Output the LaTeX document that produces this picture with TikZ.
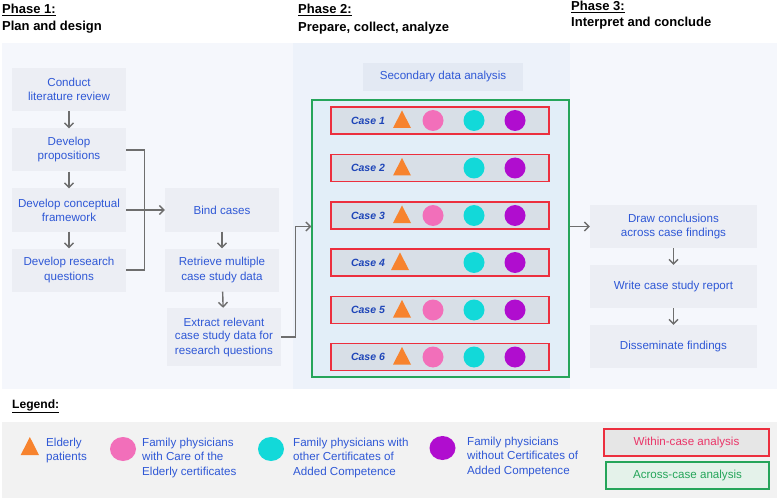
\documentclass[tikz,border=0pt]{standalone}
\usepackage{fontspec}
\setmainfont{Liberation Sans}
\usetikzlibrary{arrows.meta,calc}
\definecolor{panelA}{HTML}{F5F7FC}
\definecolor{panelB}{HTML}{EDF2FA}
\definecolor{boxgray}{HTML}{ECEEF4}
\definecolor{sdagray}{HTML}{E3E9F3}
\definecolor{txtblue}{HTML}{2F58D6}
\definecolor{casetxt}{HTML}{1E45B8}
\definecolor{greenbox}{HTML}{E2EEF8}
\definecolor{greenline}{HTML}{25A55A}
\definecolor{redline}{HTML}{EC2F3E}
\definecolor{casefill}{HTML}{D8DFE7}
\definecolor{arrgray}{HTML}{6E6E6E}
\definecolor{triorange}{HTML}{F7832E}
\definecolor{cpink}{HTML}{F26FBA}
\definecolor{ccyan}{HTML}{12D9D9}
\definecolor{cpurple}{HTML}{B00DCF}
\definecolor{legfill}{HTML}{F2F2F2}
\definecolor{withinfill}{HTML}{E6E6E6}
\definecolor{withintxt}{HTML}{EA3568}
\definecolor{acrossfill}{HTML}{E4F2EA}
\tikzset{
  x=1pt,y=-1pt,
  stepbox/.style={fill=boxgray,inner sep=0pt,minimum width=114pt,minimum height=43pt,align=center,text=txtblue,font=\fontsize{11.6}{14}\selectfont},
  casebox/.style={fill=casefill,draw=redline,line width=1.3pt,inner sep=0pt,minimum width=218pt,minimum height=27pt},
  caselbl/.style={text=casetxt,font=\fontsize{10.5}{12}\selectfont\bfseries\itshape,inner sep=0pt},
  arr/.style={draw=arrgray,line width=1.4pt,-{Straight Barb[length=4.5pt,width=9pt]}},
  conn/.style={draw=arrgray,line width=1.4pt},
  title/.style={anchor=west,inner sep=0pt,font=\fontsize{13}{15}\selectfont\bfseries},
  legtxt/.style={anchor=west,inner sep=0pt,align=left,text=txtblue,font=\fontsize{11.6}{14.5}\selectfont},
  dotp/.style={fill=cpink,circle,inner sep=0pt,minimum size=21pt},
  dotc/.style={fill=ccyan,circle,inner sep=0pt,minimum size=21pt},
  dotu/.style={fill=cpurple,circle,inner sep=0pt,minimum size=21pt},
}
\begin{document}
\begin{tikzpicture}
\useasboundingbox (0,0) rectangle (777,500);
\fill[white] (0,0) rectangle (777,500);
% panels
\fill[panelA] (2,43) rectangle (293,389);
\fill[panelB] (293,43) rectangle (570,389);
\fill[panelA] (570,43) rectangle (777,389);
\fill[legfill] (2,422) rectangle (777,498);
% titles
\node[title] (t1a) at (2,10) {\underline{Phase 1:}};
\node[title] (t1b) at (2,27) {Plan and design};
\node[title] (t2a) at (298,10) {\underline{Phase 2:}};
\node[title] (t2b) at (298,28) {Prepare, collect, analyze};
\node[title] (t3a) at (571,7) {\underline{Phase 3:}};
\node[title] (t3b) at (571,23) {Interpret and conclude};
% phase 1
\node[stepbox] (lit) at (69,89.5) {Conduct\\literature review};
\node[stepbox] (prop) at (69,150) {Develop\\propositions};
\node[stepbox] (conc) at (69,210) {Develop conceptual\\framework};
\node[stepbox] (rq) at (69,270) {Develop research\\questions};
\node[stepbox] (bind) at (222,210) {Bind cases};
\node[stepbox] (retr) at (222,270) {Retrieve multiple\\case study data};
\node[stepbox,minimum height=58pt] (extr) at (224,337) {Extract relevant\\case study data for\\research questions};
\draw[arr] (lit) -- (prop);
\draw[arr] (prop) -- (conc);
\draw[arr] (conc) -- (rq);
\draw[arr] (bind) -- (retr);
\draw[arr] (retr) -- (extr);
\draw[conn] (prop.east) -- ++(18,0) |- (rq.east);
\draw[arr] (conc.east) -- (bind.west);
% phase 2
\node[fill=sdagray,inner sep=0pt,minimum width=160pt,minimum height=28pt,text=txtblue,font=\fontsize{11.6}{14}\selectfont] (sda) at (443,77) {Secondary data analysis};
\node[fill=greenbox,draw=greenline,line width=1.3pt,inner sep=0pt,minimum width=257pt,minimum height=277pt] (green) at (440.5,238.5) {};
\foreach \i/\y/\pk/\tx in {1/120.5/1/402,2/168/0/402,3/215.5/1/402,4/262.5/0/400,5/310/1/402,6/357/1/402}{
  \node[casebox] (case\i) at (440,\y) {};
  \node[caselbl] (cl\i) at (368,\y) {Case \i};
  \fill[triorange] (\tx-9,\y+7.5) -- (\tx+9,\y+7.5) -- (\tx,\y-10) -- cycle;
  \ifnum\pk=1 \node[dotp] (p\i) at (433,\y) {};\fi
  \node[dotc] (c\i) at (474,\y) {};
  \node[dotu] (u\i) at (515,\y) {};
}
\coordinate (gin) at ($(green.west)+(0,-12)$);
\draw[arr] (extr.east) -- ++(14,0) |- (gin);
% phase 3
\node[stepbox,minimum width=167pt] (draw) at (673.5,226.5) {Draw conclusions\\across case findings};
\node[stepbox,minimum width=167pt] (write) at (673.5,286.5) {Write case study report};
\node[stepbox,minimum width=167pt] (diss) at (673.5,346.5) {Disseminate findings};
\draw[arr] (draw.west -| green.east) -- (draw.west);
\draw[arr] (draw) -- (write);
\draw[arr] (write) -- (diss);
% legend
\node[title,font=\fontsize{12.1}{14}\selectfont\bfseries] (leg) at (12,406) {\underline{Legend:}};
\fill[triorange] (20.7,455) -- (39,455) -- (29.85,437) -- cycle;
\node[legtxt] (l1) at (46,450.5) {Elderly\\patients};
\fill[cpink] (123,449) ellipse [x radius=13,y radius=12];
\node[legtxt] (l2) at (142,457.5) {Family physicians\\with Care of the\\Elderly certificates};
\fill[ccyan] (271,449) ellipse [x radius=13,y radius=12];
\node[legtxt] (l3) at (293,457.5) {Family physicians with\\other Certificates of\\Added Competence};
\fill[cpurple] (442.5,448) ellipse [x radius=13,y radius=12];
\node[legtxt] (l4) at (467,456.5) {Family physicians\\without Certificates of\\Added Competence};
\node[fill=withinfill,draw=redline,line width=1.3pt,inner sep=0pt,minimum width=165pt,minimum height=27pt,text=withintxt,font=\fontsize{11.6}{14}\selectfont] (within) at (686.5,442.5) {Within-case analysis};
\node[fill=acrossfill,draw=greenline,line width=1.3pt,inner sep=0pt,minimum width=163pt,minimum height=27pt,text=greenline,font=\fontsize{11.6}{14}\selectfont] (across) at (687.5,475.5) {Across-case analysis};
\end{tikzpicture}
\end{document}
